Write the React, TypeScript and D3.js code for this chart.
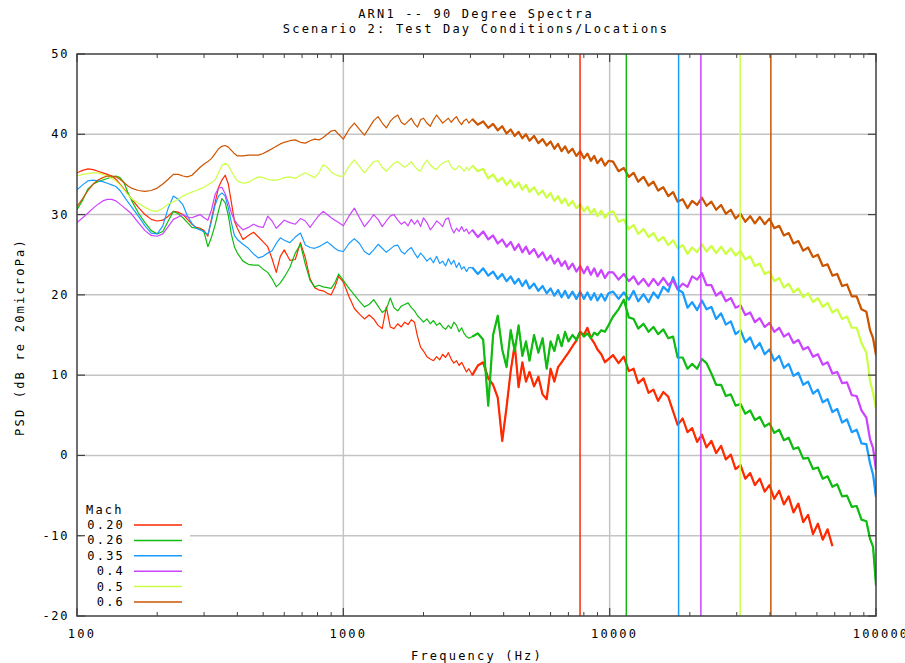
import React from 'react';
import * as d3 from 'd3';

const W = 905;
const H = 663;
const X0 = 77, X1 = 876, Y0 = 54, Y1 = 616;

const titleLines = ['ARN1 -- 90 Degree Spectra', 'Scenario 2: Test Day Conditions/Locations'];
const xLabel = 'Frequency (Hz)';
const yLabel = 'PSD (dB re 20microPa)';
const xTickValues = [100, 1000, 10000, 100000];
const yTickValues = [-20, -10, 0, 10, 20, 30, 40, 50];
const legendTitle = 'Mach';
const bandStartHz = 3000;

const freqs = [
  100,105,110,115,120,125,130,135,140,145,150,155,160,170,180,190,200,210,220,230,240,250,260,270,280,290,300,310,320,330,340,350,360,370,380,390,400,420,440,460,480,500,520,540,560,580,600,630,660,690,720,750,780,810,840,870,900,930,960,
  1000,1050,1100,1150,1200,1250,1300,1350,1400,1450,1500,1550,1600,1650,1700,1750,1800,1850,1900,1950,2000,2060,2120,2180,2240,2300,2360,2420,2480,2540,2600,2660,2720,2780,2840,2900,2960,
  3050,3200,3350,3500,3650,3800,3950,4100,4250,4400,4550,4700,4850,5000,5200,5400,5600,5800,6000,6200,6400,6600,6800,7000,7250,7500,7750,8000,8250,8500,8750,9000,9300,9600,9900,
  10300,10800,11300,11800,12300,12800,13400,14000,14600,15200,15900,16600,17300,18000,18800,19600,20400,21300,22200,23100,24100,25100,26200,27300,28500,29700,31000,32300,33700,35100,36600,38200,39800,41500,43300,45100,47000,49000,51100,53300,55600,58000,60500,63100,65800,68600,71500,74600,77800,81100,84600,88200,92000,95000,97500,100000,
];

const mach020 = [
  35.2,35.5,35.7,35.6,35.4,35.2,35.0,34.8,34.4,33.8,33.2,32.6,
  32.0,30.9,30.0,29.4,29.2,29.3,29.8,30.4,30.3,30.0,29.4,28.8,28.4,28.3,28.0,27.3,29.5,31.5,33.4,34.3,34.9,33.8,31.5,29.2,28.3,
  26.9,27.4,27.8,27.2,26.6,26.0,24.5,22.8,24.8,25.6,
  24.3,24.4,26.5,24.6,22.0,20.9,20.6,20.5,20.2,20.0,21.0,22.3,
  21.6,19.8,18.3,17.6,17.0,17.5,17.0,16.2,15.8,18.5,16.0,15.8,16.4,16.0,16.6,16.3,16.9,16.6,14.8,13.5,13.0,
  12.3,12.0,11.8,12.3,11.9,12.6,12.2,12.8,12.0,11.5,11.8,11.2,11.6,11.0,10.4,10.8,
  10.0,11.2,11.6,9.6,8.8,7.2,1.8,6.0,10.5,13.8,8.5,11.6,9.2,10.4,8.6,9.8,7.6,7.0,10.8,9.2,11.0,11.6,12.2,12.8,13.6,14.3,15.4,15.0,15.9,14.6,14.0,13.2,12.6,11.6,12.0,
  12.5,11.5,12.3,10.5,10.8,9.0,9.6,7.8,8.2,6.8,7.9,7.3,5.5,3.8,4.6,2.9,3.4,1.7,2.6,1.0,1.8,0.3,1.2,-0.5,0.1,-1.7,-1.2,-2.9,-2.2,-3.7,-2.9,-4.5,-3.7,-5.4,-4.4,-6.1,-5.1,-7.1,-6.0,-8.3,-7.4,-9.8,-8.5,-10.5,-9.2,-11.3,
  null,null,null,null,null,null,null,null,null,null,
];

const mach026 = [
  30.6,31.8,33.2,33.8,34.1,34.3,34.5,34.7,34.8,34.6,34.0,32.8,
  31.8,30.2,29.0,28.0,27.6,27.9,29.2,30.4,30.1,29.6,29.0,28.4,28.3,28.2,27.8,26.0,27.2,28.7,30.5,32.0,31.5,29.9,27.5,26.0,25.2,
  24.2,23.8,23.7,23.7,23.2,22.8,22.0,21.0,21.5,22.2,
  23.4,25.2,26.3,23.8,21.8,21.0,21.2,21.0,20.9,20.8,21.5,22.6,
  21.8,20.8,20.0,19.2,18.5,18.8,19.4,18.6,17.8,18.2,19.6,18.4,18.0,18.6,18.8,19.0,18.4,18.0,17.4,17.0,16.6,
  17.0,16.4,16.8,16.2,16.5,16.0,15.7,16.2,15.8,16.6,16.2,15.4,15.9,15.2,14.8,14.6,
  14.8,15.2,14.4,6.2,15.0,17.4,13.2,11.0,15.6,13.0,16.2,12.4,14.2,11.8,15.0,12.8,14.6,10.8,14.2,13.0,15.0,13.6,15.4,14.2,15.0,14.4,15.4,14.8,15.2,14.6,15.3,15.0,15.6,15.4,16.2,
  17.3,18.2,19.4,17.2,17.0,15.8,16.4,15.4,16.0,15.1,15.7,14.6,14.8,12.2,12.2,10.8,11.4,10.8,12.0,11.5,10.2,8.8,8.8,7.4,7.6,6.2,6.4,5.2,5.6,4.4,4.8,3.6,4.0,2.8,3.2,1.9,2.2,0.8,1.0,-0.4,-0.3,-1.7,-1.5,-2.9,-2.6,-3.9,-3.6,-5.1,-5.0,-6.4,-6.3,-8.0,-8.2,-10.4,-11.4,-16.2,
];

const mach035 = [
  33.1,33.7,34.2,34.3,34.2,34.1,33.9,33.7,33.5,33.0,32.3,31.6,
  31.0,29.8,28.6,27.7,27.6,28.6,30.8,32.3,31.9,31.2,29.8,28.9,28.3,28.1,27.9,27.5,29.2,31.2,32.3,32.7,32.3,30.8,29.0,27.4,26.9,
  26.3,25.8,25.1,24.6,24.8,25.2,25.5,26.4,27.1,26.8,
  26.5,27.2,27.7,26.2,25.9,25.8,26.0,26.3,26.6,26.2,25.8,25.5,
  25.4,26.4,27.0,26.4,25.4,25.0,25.6,26.3,25.8,25.3,25.7,26.1,26.2,25.4,25.1,25.6,25.9,25.2,24.6,25.2,24.8,
  24.2,24.6,24.0,24.8,23.9,24.2,23.6,24.5,23.8,24.3,23.4,24.0,23.2,23.5,22.9,23.4,
  23.4,22.6,23.3,22.4,22.9,22.0,22.6,21.7,22.3,21.4,22.0,21.1,21.8,20.8,21.4,20.5,21.1,20.2,20.8,19.9,20.6,19.7,20.5,19.6,20.4,19.5,20.4,19.5,20.3,19.4,20.2,19.3,20.1,19.3,20.2,
  20.4,19.5,20.3,19.4,20.5,19.2,20.1,19.1,20.3,19.6,21.0,20.4,22.2,20.7,20.3,18.4,19.1,18.1,19.3,18.2,18.5,17.0,17.7,16.3,16.7,15.1,15.6,14.1,14.7,13.3,14.0,12.6,13.2,11.8,12.4,10.9,11.4,9.9,10.3,8.8,9.2,7.7,8.2,6.6,7.0,5.4,5.8,4.1,4.5,2.9,3.2,1.5,1.4,-1.0,-2.4,-5.2,
];

const mach040 = [
  29.0,29.6,30.2,30.8,31.3,31.7,31.9,31.9,31.7,31.3,30.9,30.5,
  30.1,29.0,28.0,27.4,27.3,27.6,28.5,29.4,29.7,30.0,29.7,29.6,29.8,30.0,29.6,29.3,30.6,32.5,33.3,33.4,32.6,31.5,30.2,29.3,28.8,
  28.1,28.4,28.8,28.5,28.4,29.8,29.2,28.3,28.8,29.3,
  29.0,28.8,29.5,29.2,28.4,29.2,29.9,30.4,30.0,29.6,29.3,29.0,
  28.6,29.8,30.8,29.6,28.5,29.2,30.0,29.4,28.5,29.2,29.8,30.0,29.3,28.8,29.1,28.6,29.4,28.8,29.3,28.5,29.6,
  29.0,28.1,28.6,29.2,28.9,28.5,29.4,29.6,28.4,27.7,28.3,27.9,28.5,27.9,28.2,27.6,
  28.1,27.2,27.9,26.9,27.4,26.4,26.9,26.0,26.6,25.6,26.3,25.3,26.0,25.1,25.7,24.7,25.3,24.3,24.9,23.9,24.5,23.6,24.2,23.2,23.9,22.9,23.6,22.7,23.5,22.5,23.3,22.3,23.1,22.1,22.8,
  22.8,21.9,22.6,21.7,22.3,21.3,22.0,21.1,22.0,21.2,22.1,21.2,21.8,20.7,21.4,21.0,22.3,21.9,22.7,21.2,21.2,19.9,20.4,19.2,19.6,18.4,18.7,17.5,17.8,16.6,17.1,16.0,16.5,15.4,15.9,14.8,15.2,14.0,14.4,13.2,13.5,12.3,12.6,11.3,11.6,10.2,10.4,9.0,9.1,7.5,7.4,5.6,4.7,2.0,0.9,-1.8,
];

const mach050 = [
  34.8,35.0,35.1,35.2,35.2,35.0,34.8,34.5,34.2,33.7,33.1,32.5,
  32.0,31.4,30.9,30.5,30.4,30.8,31.3,31.6,31.9,32.3,32.6,32.8,33.0,33.2,33.4,33.7,34.0,34.3,35.2,36.1,36.4,36.1,35.4,34.7,34.2,
  33.9,34.0,34.4,34.7,34.6,34.4,34.3,34.3,34.4,34.6,
  34.7,34.5,34.9,35.2,34.9,34.6,35.2,36.2,35.9,35.3,35.0,34.8,
  34.8,36.0,36.8,36.0,35.2,35.9,36.6,36.7,35.9,35.4,35.9,36.4,36.6,36.2,35.9,36.2,36.6,36.0,35.6,35.4,36.2,
  36.8,36.2,35.8,35.6,36.1,36.4,36.6,36.7,36.0,35.6,35.7,36.1,35.8,35.4,35.9,35.5,
  36.1,35.4,35.7,34.5,35.0,34.1,34.6,33.7,34.3,33.4,34.0,33.1,33.7,32.8,33.4,32.5,33.0,32.1,32.7,31.7,32.3,31.4,32.0,31.1,31.7,30.8,31.3,30.4,31.0,30.1,30.7,29.8,30.5,29.6,30.2,
  30.4,29.1,29.4,28.2,28.7,27.6,28.2,27.2,27.7,26.7,27.2,26.2,26.8,25.8,26.2,25.1,25.9,25.3,26.3,25.4,26.1,25.2,26.0,25.1,25.8,24.9,25.5,24.4,24.8,23.6,23.9,22.6,22.9,21.7,22.1,20.9,21.4,20.3,20.8,19.7,20.2,19.1,19.6,18.5,19.0,17.8,18.2,17.0,17.3,15.9,15.9,14.0,12.8,9.3,7.8,5.8,
];

const mach060 = [
  31.0,32.0,33.0,33.8,34.3,34.6,34.8,34.8,34.7,34.4,34.0,33.6,
  33.3,33.0,32.9,33.0,33.3,33.8,34.4,35.0,35.0,34.8,34.7,34.9,35.4,35.9,36.3,36.6,37.0,37.6,38.2,38.5,38.6,38.4,38.0,37.6,37.3,
  37.3,37.4,37.4,37.4,37.6,37.9,38.2,38.5,38.8,39.0,
  39.2,39.3,39.0,38.9,39.2,39.4,39.3,39.6,40.0,40.4,40.5,40.0,
  39.4,40.6,41.4,40.6,39.9,40.8,41.7,42.2,41.4,40.8,41.6,42.1,42.4,41.5,41.2,41.6,42.0,41.3,40.9,41.8,42.0,
  41.4,41.0,41.8,42.4,41.9,41.4,41.7,42.0,41.5,41.9,42.2,41.6,41.2,41.7,41.9,41.4,
  41.9,41.2,41.6,40.8,41.3,40.5,41.0,40.1,40.6,39.8,40.3,39.5,40.0,39.2,39.8,38.9,39.4,38.6,39.1,38.2,38.8,37.9,38.5,37.7,38.2,37.3,37.9,37.0,37.6,36.7,37.3,36.4,37.0,36.1,36.7,
  36.6,35.4,35.8,34.7,35.2,34.1,34.7,33.6,34.1,33.0,33.4,32.3,32.8,31.6,31.9,30.8,31.7,31.2,32.1,31.1,31.6,30.6,31.2,30.1,30.6,29.5,30.1,29.1,29.8,28.9,29.7,28.8,29.5,28.3,28.6,27.4,27.7,26.4,26.7,25.5,25.9,24.7,25.0,23.6,23.8,22.4,22.6,21.1,21.3,19.8,19.8,18.2,17.9,15.6,14.6,12.5,
];

const seriesLabels = ['0.20', '0.26', '0.35', '0.4', '0.5', '0.6'];
const seriesColors = ['#ff2a00', '#11bb11', '#1a9cff', '#cc44ff', '#ccff44', '#cc5500'];
const seriesValues = [mach020, mach026, mach035, mach040, mach050, mach060];
const markerFreqs = [7740, 11550, 18150, 22000, 30900, 40300];

const FONT = '"DejaVu Sans Mono", "Liberation Mono", monospace';

export default function App() {
  const x = d3.scaleLog().domain([100, 100000]).range([X0, X1]);
  const y = d3.scaleLinear().domain([-20, 50]).range([Y1, Y0]);

  const minorX: number[] = [];
  for (let dec = 100; dec < 100000; dec *= 10) {
    for (let k = 2; k <= 9; k++) minorX.push(dec * k);
  }

  const line = d3
    .line<[number, number | null]>()
    .defined((d) => d[1] !== null && d[1] !== undefined)
    .x((d) => x(d[0]))
    .y((d) => y(d[1] as number));

  const bandLine = d3
    .line<[number, number | null]>()
    .defined((d) => d[1] !== null && d[1] !== undefined && d[0] >= bandStartHz)
    .x((d) => x(d[0]))
    .y((d) => y(d[1] as number));

  const textStyle: React.CSSProperties = { fontFamily: FONT, fontSize: 12, letterSpacing: 2.2 };
  const gridColor = '#c4c4c4';
  const axisColor = '#404040';

  return (
    <svg width={W} height={H} style={{ position: 'absolute', left: 0, top: 0, background: '#fff' }}>
      <defs>
        <clipPath id="plotClip">
          <rect x={X0} y={Y0} width={X1 - X0} height={Y1 - Y0} />
        </clipPath>
      </defs>
      <rect x={0} y={0} width={W} height={H} fill="#fff" />

      {titleLines.map((t, i) => (
        <text key={t} x={476} y={18 + i * 15} textAnchor="middle" style={textStyle} fill="#000">
          {t}
        </text>
      ))}

      {xTickValues.slice(1, -1).map((v) => (
        <line key={'gx' + v} x1={x(v)} x2={x(v)} y1={Y0} y2={Y1} stroke={gridColor} strokeWidth={1.5} />
      ))}
      {yTickValues.slice(1, -1).map((v) => (
        <line key={'gy' + v} x1={X0} x2={X1} y1={y(v)} y2={y(v)} stroke={gridColor} strokeWidth={1.5} />
      ))}

      <g clipPath="url(#plotClip)">
        {seriesValues.map((vals, i) => {
          const pts: [number, number | null][] = freqs.map((f, j) => [f, j < vals.length ? (vals[j] as number | null) : null]);
          return (
            <g key={'s' + i}>
              <path d={line(pts) || ''} fill="none" stroke={seriesColors[i]} strokeWidth={1.2} strokeLinejoin="round" />
              <path d={bandLine(pts) || ''} fill="none" stroke={seriesColors[i]} strokeWidth={2.2} strokeLinejoin="round" />
            </g>
          );
        })}
        {markerFreqs.map((f, i) => (
          <line key={'m' + i} x1={x(f)} x2={x(f)} y1={Y0} y2={Y1} stroke={seriesColors[i]} strokeWidth={1.5} />
        ))}
      </g>

      <rect x={82} y={500} width={108} height={110} fill="#fff" />
      <text x={86} y={514} style={textStyle}>{legendTitle}</text>
      {seriesLabels.map((lab, i) => {
        const yy = 525 + i * 15.4;
        return (
          <g key={'lg' + i}>
            <text x={125} y={yy + 4} textAnchor="end" style={textStyle}>{lab}</text>
            <line x1={134} x2={182} y1={yy} y2={yy} stroke={seriesColors[i]} strokeWidth={1.5} />
          </g>
        );
      })}

      {minorX.map((v) => (
        <g key={'mx' + v}>
          <line x1={x(v)} x2={x(v)} y1={Y0} y2={Y0 + 4} stroke={axisColor} strokeWidth={1} />
          <line x1={x(v)} x2={x(v)} y1={Y1} y2={Y1 - 4} stroke={axisColor} strokeWidth={1} />
        </g>
      ))}
      {xTickValues.map((v) => (
        <g key={'tx' + v}>
          <line x1={x(v)} x2={x(v)} y1={Y0} y2={Y0 + 8} stroke={axisColor} strokeWidth={1.2} />
          <line x1={x(v)} x2={x(v)} y1={Y1} y2={Y1 - 8} stroke={axisColor} strokeWidth={1.2} />
          <text x={x(v) + 5} y={638} textAnchor="middle" style={textStyle}>{String(v)}</text>
        </g>
      ))}
      {yTickValues.map((v) => (
        <g key={'ty' + v}>
          <line x1={X0} x2={X0 + 8} y1={y(v)} y2={y(v)} stroke={axisColor} strokeWidth={1.2} />
          <line x1={X1} x2={X1 - 8} y1={y(v)} y2={y(v)} stroke={axisColor} strokeWidth={1.2} />
          <text x={69} y={y(v) + 4} textAnchor="end" style={{ ...textStyle, letterSpacing: 1.6 }}>{String(v)}</text>
        </g>
      ))}

      <rect x={X0} y={Y0} width={X1 - X0} height={Y1 - Y0} fill="none" stroke={axisColor} strokeWidth={1.5} />

      <text x={477} y={660} textAnchor="middle" style={textStyle}>{xLabel}</text>
      <text transform={`translate(24, ${337}) rotate(-90)`} textAnchor="middle" style={textStyle}>{yLabel}</text>
    </svg>
  );
}
